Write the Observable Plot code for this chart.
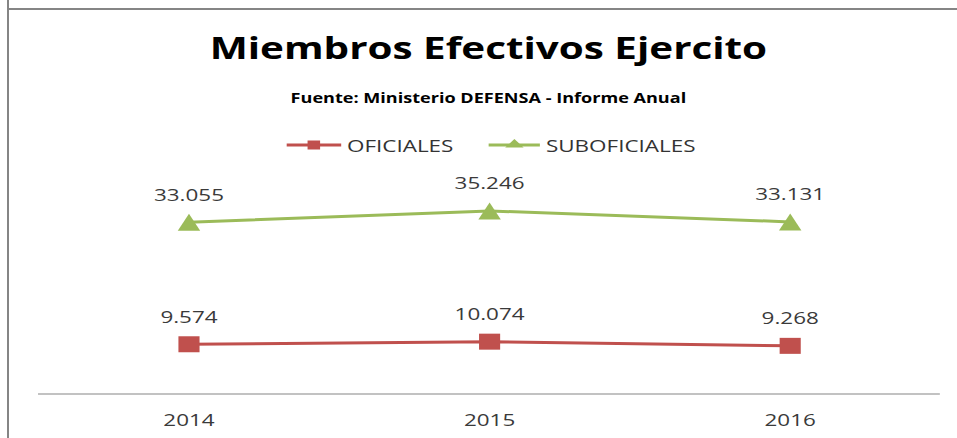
<!DOCTYPE html>
<html>
<head>
<meta charset="utf-8">
<script src="https://cdn.jsdelivr.net/npm/d3@7"></script>
<script src="https://cdn.jsdelivr.net/npm/@observablehq/plot@0.6"></script>
<style>
  html, body { margin: 0; padding: 0; background: #fff; }
  body { width: 957px; height: 438px; position: relative; overflow: hidden; font-family: "Open Sans", sans-serif; }
  .vborder { position: absolute; left: 7px; top: 0; width: 2px; height: 438px; background: #858585; }
  .hborder { position: absolute; left: 7px; top: 8px; width: 950px; height: 2px; background: #858585; }
  #wrap { position: absolute; left: 0; top: 0; width: 725px; height: 438px; transform: scaleX(1.32); transform-origin: 0 0; }
  .title { position: absolute; left: 0; width: 740px; top: 32px; text-align: center; font-size: 30.6px; line-height: 31px; font-weight: 700; color: #000; white-space: nowrap; }
  .subtitle { position: absolute; left: 0; width: 740px; top: 91px; text-align: center; font-size: 13.7px; line-height: 13px; font-weight: 700; color: #000; white-space: nowrap; }
  .legtext { position: absolute; top: 136.5px; font-size: 17px; line-height: 17px; color: #333; white-space: nowrap; }
  .legsw { position: absolute; top: 135px; }
  #chart { position: absolute; left: 0; top: 160px; }
</style>
</head>
<body>
<div class="vborder"></div>
<div class="hborder"></div>
<div id="wrap">
  <div class="title">Miembros Efectivos Ejercito</div>
  <div class="subtitle">Fuente: Ministerio DEFENSA - Informe Anual</div>
  <div id="legend"></div>
  <div id="chart"></div>
</div>
<script>
const years = ["2014", "2015", "2016"];
const oficiales = [9574, 10074, 9268];
const suboficiales = [33055, 35246, 33131];
const seriesNames = ["OFICIALES", "SUBOFICIALES"];
const seriesColors = ["#C0504D", "#9BBB59"];

const fmt = d3.formatLocale({decimal: ",", thousands: ".", grouping: [3], currency: ["", ""]}).format(",d");

const data = years.flatMap((y, i) => [
  {year: y, value: oficiales[i], series: seriesNames[0]},
  {year: y, value: suboficiales[i], series: seriesNames[1]}
]);
const ofi = data.filter(d => d.series === seriesNames[0]);
const sub = data.filter(d => d.series === seriesNames[1]);

// isosceles triangle, width = height = sqrt(size)
const triangleSym = {
  draw(context, size) {
    const s = Math.sqrt(size);
    context.moveTo(0, -s / 2);
    context.lineTo(s / 2, s / 2);
    context.lineTo(-s / 2, s / 2);
    context.closePath();
  }
};
const squareSym = {
  draw(context, size) {
    const s = Math.sqrt(size);
    context.rect(-s / 2, -s / 2, s, s);
  }
};
const rFor = side => side / Math.sqrt(Math.PI);

const chart = Plot.plot({
  width: 725,
  height: 278,
  marginTop: 25.7,
  marginBottom: 44.5,
  marginLeft: 28.8,
  marginRight: 13,
  style: {fontFamily: "'Open Sans', sans-serif", fontSize: "17px", color: "#3a3a3a", background: "transparent"},
  x: {type: "point", domain: years, padding: 0.5, round: false, label: null},
  y: {domain: [0, 40000], axis: null},
  color: {domain: seriesNames, range: seriesColors},
  marks: [
    Plot.ruleY([0], {stroke: "#868686", strokeWidth: 1}),
    Plot.line(data, {x: "year", y: "value", z: "series", stroke: "series", strokeWidth: 3}),
    Plot.dot(ofi, {x: "year", y: "value", symbol: squareSym, r: rFor(16), fill: seriesColors[0], stroke: null}),
    Plot.dot(sub, {x: "year", y: "value", symbol: triangleSym, r: rFor(17), fill: seriesColors[1], stroke: null}),
    Plot.text(data, {x: "year", y: "value", text: d => fmt(d.value), dy: -27, fontSize: 17, fill: "#3a3a3a"}),
    Plot.axisX({tickSize: 0, tickPadding: 20, fontSize: 17, fill: "#3a3a3a", label: null})
  ]
});
document.getElementById("chart").appendChild(chart);

// legend
const legend = document.getElementById("legend");
const legItems = [
  {name: seriesNames[0], color: seriesColors[0], sw: 217.4, sww: 41.5, tx: 262.9, shape: "square"},
  {name: seriesNames[1], color: seriesColors[1], sw: 369.7, sww: 39.4, tx: 413.6, shape: "triangle"}
];
const ns = "http://www.w3.org/2000/svg";
legItems.forEach(it => {
  const svg = document.createElementNS(ns, "svg");
  svg.setAttribute("class", "legsw");
  svg.setAttribute("width", it.sww);
  svg.setAttribute("height", 20);
  svg.style.left = it.sw + "px";
  const cy = 10;
  const line = document.createElementNS(ns, "line");
  line.setAttribute("x1", 0); line.setAttribute("x2", it.sww);
  line.setAttribute("y1", cy); line.setAttribute("y2", cy);
  line.setAttribute("stroke", it.color); line.setAttribute("stroke-width", 3);
  svg.appendChild(line);
  const cx = it.sww / 2;
  if (it.shape === "square") {
    const r = document.createElementNS(ns, "rect");
    r.setAttribute("x", cx - 4.75); r.setAttribute("y", cy - 4.5);
    r.setAttribute("width", 9.5); r.setAttribute("height", 9);
    r.setAttribute("fill", it.color);
    svg.appendChild(r);
  } else {
    const p = document.createElementNS(ns, "path");
    p.setAttribute("d", `M${cx},${cy - 6}L${cx + 7},${cy + 2.5}L${cx - 7},${cy + 2.5}Z`);
    p.setAttribute("fill", it.color);
    svg.appendChild(p);
  }
  legend.appendChild(svg);
  const t = document.createElement("div");
  t.className = "legtext";
  t.style.left = it.tx + "px";
  t.textContent = it.name;
  legend.appendChild(t);
});
</script>
</body>
</html>
